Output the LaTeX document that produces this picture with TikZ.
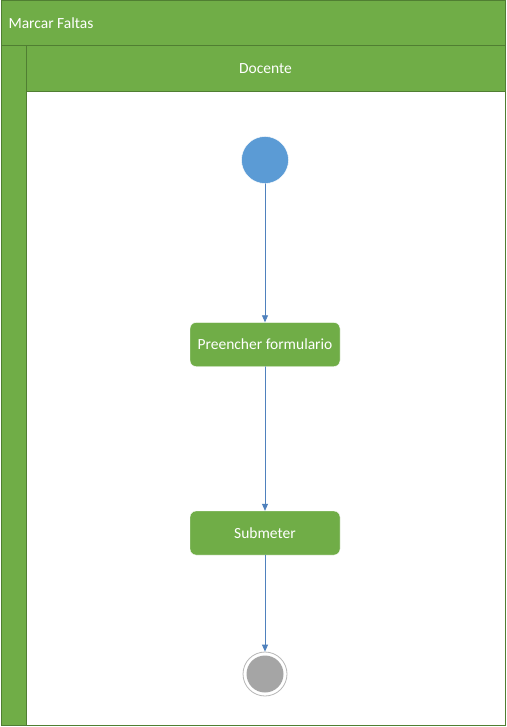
\documentclass[tikz,border=0pt]{standalone}
\usepackage{fontspec}
\setmainfont{Carlito}
\usetikzlibrary{positioning,arrows.meta}

\begin{document}
\begin{tikzpicture}
		[x=1pt,y=-1pt,line cap=round,>={Triangle[width=6pt,length=7pt]},
		%Styles
		lane/.style={fill=lanegreen,draw=laneborder,line width=1pt},
		lane text/.style={text=white,font=\fontsize{15.5}{18}\selectfont},
		action/.style={rectangle,rounded corners=6pt,fill=lanegreen,draw=white,minimum width=150pt,minimum height=44pt,text=white,font=\fontsize{15.5}{18}\selectfont},
		flow/.style={draw=flowblue,->,line width=0.8pt}
		]
		
		%Colors
		\definecolor{lanegreen}{HTML}{70AD47}
		\definecolor{laneborder}{HTML}{507E32}
		\definecolor{flowblue}{HTML}{4F81BD}
		\definecolor{startblue}{HTML}{5B9BD5}
		\definecolor{endgrey}{HTML}{A5A5A5}
		
		\useasboundingbox (0,0) rectangle (506,727);
		
		%The graphic
		\draw[lane] (1,1) rectangle (505,46);
		\node[lane text,anchor=west] (pool) at (5,23.5) {Marcar Faltas};
		\draw[lane] (1,46) rectangle (26,725);
		\draw[lane] (26,46) rectangle (505,92);
		\node[lane text] (lane) at (265.5,69) {Docente};
		\draw[draw=laneborder,line width=1pt,fill=white] (26,92) rectangle (505,725);
		
		\node[circle,fill=startblue,draw=white,minimum size=47pt,inner sep=0pt] (start) at (265,160) {};
		\node[action] (fill) at (265,344.5) {Preencher formulario};
		\node[action] (submit) at (265,533) {Submeter};
		\node[circle,draw=endgrey!80,line width=0.8pt,minimum size=44pt,inner sep=0pt] (end) at (265,674) {};
		\fill[endgrey] (end.center) circle (18.5pt);
		
		\draw[flow] (start) -- (fill);
		\draw[flow] (fill) -- (submit);
		\draw[flow] (submit) -- (end);
	\end{tikzpicture}
\end{document}
